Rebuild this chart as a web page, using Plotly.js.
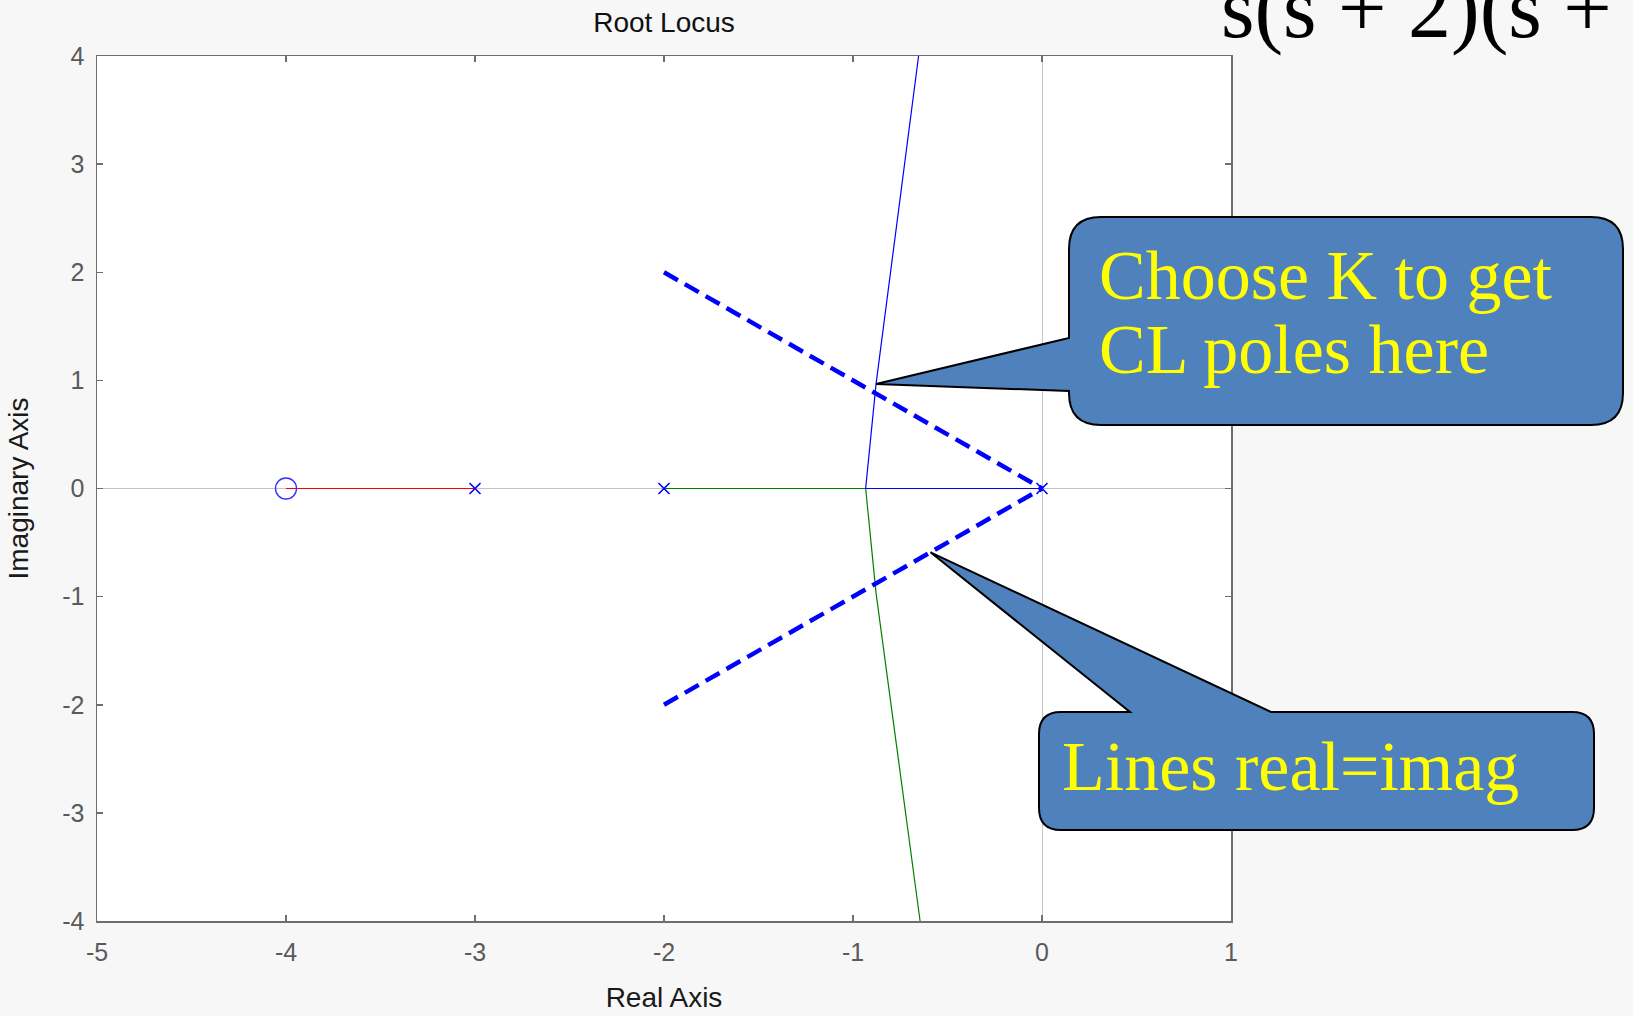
<!DOCTYPE html>
<html>
<head>
<meta charset="utf-8">
<script src="https://cdn.plot.ly/plotly-3.0.1.min.js"></script>
<style>
  html, body { margin: 0; padding: 0; background: #f7f7f7; }
  #chart { width: 1633px; height: 1016px; }
</style>
</head>
<body>
<div id="chart"></div>
<script>
// ---- data ----
const poleRe = [0, -2, -3];
const poleIm = [0, 0, 0];
const zeroRe = [-4];
const zeroIm = [0];
const blueRe = [0, -0.933, -0.878, -0.653];
const blueIm = [0, 0, 0.967, 4];
const greenRe = [-2, -0.933, -0.878, -0.645];
const greenIm = [0, 0, -0.967, -4];
const redRe = [-3, -4];
const redIm = [0, 0];
const dashUpRe = [-2, 0];
const dashUpIm = [2, 0];
const dashDnRe = [-2, 0];
const dashDnIm = [-2, 0];
const xTicks = [-5, -4, -3, -2, -1, 0, 1];
const yTicks = [-4, -3, -2, -1, 0, 1, 2, 3, 4];
const callout1Lines = ["Choose K to get", "CL poles here"];
const callout2Lines = ["Lines real=imag"];
const formulaText = "s(s + 2)(s +";
// points the callouts refer to
const tip1 = [blueRe[2], blueIm[2]];
const tip2 = [-0.59, -0.59];

// ---- layout geometry ----
const FW = 1633, FH = 1016;
const L = 97, T = 56, W = 1134, H = 865, B = T + H;
const xr = [-5, 1], yr = [-4, 4];
function P(px, py) { return [(px - L) / W, (B - py) / H]; }
function pt(px, py) { const p = P(px, py); return p[0].toFixed(5) + ',' + p[1].toFixed(5); }
function d2px(x, y) {
  return [L + (x - xr[0]) / (xr[1] - xr[0]) * W, B - (y - yr[0]) / (yr[1] - yr[0]) * H];
}

// callout 1: pointer on the left edge
function callLeft(x0, y0, x1, y1, r, ya, yb, tip) {
  return 'M' + pt(x0 + r, y0) + ' L' + pt(x1 - r, y0) +
    ' Q' + pt(x1, y0) + ' ' + pt(x1, y0 + r) +
    ' L' + pt(x1, y1 - r) + ' Q' + pt(x1, y1) + ' ' + pt(x1 - r, y1) +
    ' L' + pt(x0 + r, y1) + ' Q' + pt(x0, y1) + ' ' + pt(x0, y1 - r) +
    ' L' + pt(x0, yb) + ' L' + pt(tip[0], tip[1]) + ' L' + pt(x0, ya) +
    ' L' + pt(x0, y0 + r) + ' Q' + pt(x0, y0) + ' ' + pt(x0 + r, y0) + ' Z';
}
// callout 2: pointer on the top edge
function callTop(x0, y0, x1, y1, r, xa, xb, tip) {
  return 'M' + pt(x0 + r, y0) + ' L' + pt(xa, y0) + ' L' + pt(tip[0], tip[1]) +
    ' L' + pt(xb, y0) + ' L' + pt(x1 - r, y0) +
    ' Q' + pt(x1, y0) + ' ' + pt(x1, y0 + r) +
    ' L' + pt(x1, y1 - r) + ' Q' + pt(x1, y1) + ' ' + pt(x1 - r, y1) +
    ' L' + pt(x0 + r, y1) + ' Q' + pt(x0, y1) + ' ' + pt(x0, y1 - r) +
    ' L' + pt(x0, y0 + r) + ' Q' + pt(x0, y0) + ' ' + pt(x0 + r, y0) + ' Z';
}

const t1 = d2px(tip1[0], tip1[1]);
const t2 = d2px(tip2[0], tip2[1]);

const traces = [
  {x: redRe, y: redIm, mode: 'lines', line: {color: '#ff0000', width: 1.2}, hoverinfo: 'skip'},
  {x: greenRe, y: greenIm, mode: 'lines', line: {color: '#008000', width: 1.2}, hoverinfo: 'skip'},
  {x: blueRe, y: blueIm, mode: 'lines', line: {color: '#0000ff', width: 1.2}, hoverinfo: 'skip'},
  {x: dashUpRe, y: dashUpIm, mode: 'lines', line: {color: '#0000ff', width: 4.5, dash: '16px,8px'}, hoverinfo: 'skip'},
  {x: dashDnRe, y: dashDnIm, mode: 'lines', line: {color: '#0000ff', width: 4.5, dash: '16px,8px'}, hoverinfo: 'skip'},
  {x: zeroRe, y: zeroIm, mode: 'markers', marker: {symbol: 'circle-open', size: 21, color: '#3030ff', line: {width: 1.3}}, hoverinfo: 'skip'},
  {x: poleRe, y: poleIm, mode: 'markers', marker: {symbol: 'x-thin-open', size: 11, color: '#0000ff', line: {width: 1.6, color: '#0000ff'}}, hoverinfo: 'skip'}
];

const tickFont = {family: 'Liberation Sans, Arial, sans-serif', size: 25, color: '#5a5a5a'};
const axBase = {
  showgrid: false, zeroline: true, zerolinecolor: '#c4c4c4', zerolinewidth: 1,
  showline: true, linecolor: '#6e6e6e', linewidth: 1.5, mirror: 'ticks',
  ticks: 'inside', ticklen: 6, tickwidth: 1.5, tickcolor: '#6e6e6e',
  tickfont: tickFont, fixedrange: true, automargin: false
};

const serif = 'Liberation Serif, Times New Roman, serif';
const annotations = [];
callout1Lines.forEach((s, i) => {
  const base = 296 + i * 74;
  const p = P(1097, base - 21);
  annotations.push({text: s, xref: 'paper', yref: 'paper', x: p[0], y: p[1], xanchor: 'left', yanchor: 'middle',
    showarrow: false, font: {family: serif, size: 70, color: '#ffff00'}});
});
callout2Lines.forEach((s, i) => {
  const base = 787 + i * 75;
  const p = P(1060, base - 21);
  annotations.push({text: s, xref: 'paper', yref: 'paper', x: p[0], y: p[1], xanchor: 'left', yanchor: 'middle',
    showarrow: false, font: {family: serif, size: 70, color: '#ffff00'}});
});
{
  const p = P(1219, 8);
  annotations.push({text: formulaText, xref: 'paper', yref: 'paper', x: p[0], y: p[1], xanchor: 'left', yanchor: 'middle',
    showarrow: false, font: {family: serif, size: 86, color: '#000000'}});
}

const layout = {
  width: FW, height: FH,
  margin: {l: L, r: FW - L - W, t: T, b: FH - B, pad: 0},
  paper_bgcolor: '#f7f7f7', plot_bgcolor: '#ffffff',
  showlegend: false,
  title: {text: 'Root Locus', x: 0.5, xref: 'paper', xanchor: 'center', y: 1 - 22 / FH, yref: 'container', yanchor: 'middle',
    font: {family: 'Liberation Sans, Arial, sans-serif', size: 28, color: '#111111'}},
  xaxis: Object.assign({}, axBase, {range: xr, tickvals: xTicks, ticktext: xTicks.map(String),
    ticklabelstandoff: 8,
    title: {text: 'Real Axis', standoff: 23, font: {family: 'Liberation Sans, Arial, sans-serif', size: 28, color: '#1a1a1a'}}}),
  yaxis: Object.assign({}, axBase, {range: yr, tickvals: yTicks, ticktext: yTicks.map(String),
    ticklabelstandoff: 6,
    title: {text: 'Imaginary Axis', standoff: 25, font: {family: 'Liberation Sans, Arial, sans-serif', size: 28, color: '#1a1a1a'}}}),
  shapes: [
    {type: 'path', xref: 'paper', yref: 'paper', layer: 'above',
      path: callLeft(1069, 217, 1623, 425, 32, 338, 391, t1),
      fillcolor: '#4f81bd', line: {color: '#000000', width: 2}},
    {type: 'path', xref: 'paper', yref: 'paper', layer: 'above',
      path: callTop(1039, 712, 1594, 830, 22, 1130, 1271, t2),
      fillcolor: '#4f81bd', line: {color: '#000000', width: 2}}
  ],
  annotations: annotations
};

Plotly.newPlot('chart', traces, layout, {displayModeBar: false, staticPlot: true});
</script>
</body>
</html>
